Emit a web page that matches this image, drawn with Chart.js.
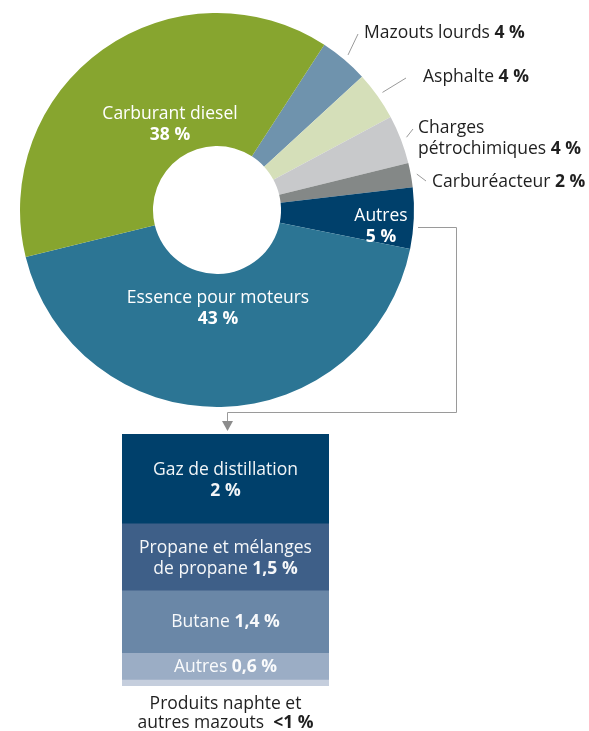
<!DOCTYPE html>
<html>
<head>
<meta charset="utf-8">
<script src="https://cdn.jsdelivr.net/npm/chart.js@4.4.0/dist/chart.umd.min.js"></script>
<style>
  html, body { margin: 0; padding: 0; background: #fff; }
  #wrap { position: relative; width: 589px; height: 731px; }
  canvas { position: absolute; left: 0; top: 0; }
</style>
</head>
<body>
<div id="wrap">
  <canvas id="pie" width="589" height="731"></canvas>
  <canvas id="bar" width="589" height="731"></canvas>
</div>
<script>
// Doughnut slices, clockwise from the top-right
const sliceNames = ['Mazouts lourds', 'Asphalte', 'Charges pétrochimiques', 'Carburéacteur', 'Autres', 'Essence pour moteurs', 'Carburant diesel'];
const sliceValues = [4, 4, 4, 2, 5, 43, 38];
const sliceColors = ['#6f93ad', '#d5dfb9', '#c8c9cb', '#848887', '#00406b', '#2c7594', '#87a52f'];

// Breakdown of "Autres", top to bottom
const otherNames = ['Gaz de distillation', 'Propane et mélanges de propane', 'Butane', 'Autres', 'Produits naphte et autres mazouts'];
const otherValues = [2, 1.5, 1.4, 0.6, 0.15];
const otherLabels = ['2 %', '1,5 %', '1,4 %', '0,6 %', '<1 %'];
const otherColors = ['#00406b', '#3e5f88', '#6a87a7', '#9badc5', '#c5cedd'];

const FONT = '"Open Sans", "DejaVu Sans", sans-serif';
const SIZE = 17.5;
const pct = v => String(v).replace('.', ',') + ' %';

// --- Helpers ---
function font(bold) { return (bold ? 'bold ' : '') + SIZE + 'px ' + FONT; }

// draw a line made of [text, bold] parts
function drawRuns(ctx, parts, x, y, align, color) {
  const widths = parts.map(p => { ctx.font = font(p[1]); return ctx.measureText(p[0]).width; });
  const total = widths.reduce((a, b) => a + b, 0);
  let cx = align === 'center' ? x - total / 2 : align === 'right' ? x - total : x;
  ctx.fillStyle = color;
  ctx.textAlign = 'left';
  ctx.textBaseline = 'middle';
  parts.forEach((p, i) => {
    ctx.font = font(p[1]);
    ctx.fillText(p[0], cx, y);
    cx += widths[i];
  });
}

// label layout for the doughnut (index -> lines)
const pieLabels = [
  { i: 0, align: 'left', x: 364, y: 33, end: [358, 34], lines: v => [[['Mazouts lourds ', 0], [v, 1]]] },
  { i: 1, align: 'left', x: 423, y: 77, end: [406, 78], lines: v => [[['Asphalte ', 0], [v, 1]]] },
  { i: 2, align: 'left', x: 418, y: 128, end: [413, 129], lines: v => [[['Charges', 0]], [['pétrochimiques ', 0], [v, 1]]] },
  { i: 3, align: 'left', x: 432, y: 182, end: [426, 181], lines: v => [[['Carburéacteur ', 0], [v, 1]]] },
  { i: 4, align: 'center', x: 381, y: 216, lines: v => [[['Autres', 0]], [[v, 1]]], inside: true },
  { i: 5, align: 'center', x: 218, y: 298, lines: v => [[['Essence pour moteurs', 0]], [[v, 1]]], inside: true },
  { i: 6, align: 'center', x: 170, y: 114, lines: v => [[['Carburant diesel', 0]], [[v, 1]]], inside: true }
];

const pieLabelPlugin = {
  id: 'pieLabels',
  afterDraw(chart) {
    const ctx = chart.ctx;
    const arcs = chart.getDatasetMeta(0).data;
    ctx.save();
    pieLabels.forEach(l => {
      const arc = arcs[l.i];
      if (!l.inside) {
        const mid = (arc.startAngle + arc.endAngle) / 2;
        const r = arc.outerRadius + 6;
        ctx.strokeStyle = '#9a9a9a';
        ctx.lineWidth = 1;
        ctx.beginPath();
        ctx.moveTo(arc.x + r * Math.cos(mid), arc.y + r * Math.sin(mid));
        ctx.lineTo(l.end[0], l.end[1]);
        ctx.stroke();
      }
      const color = l.inside ? '#ffffff' : '#1f1f1f';
      l.lines(pct(sliceValues[l.i])).forEach((line, k) => {
        drawRuns(ctx, line, l.x, l.y + k * 21, l.align, color);
      });
    });

    // connector from "Autres" to the breakdown bar
    const a = arcs[4];
    const x0 = a.x + a.outerRadius + 4;
    ctx.strokeStyle = '#9a9a9a';
    ctx.lineWidth = 1;
    ctx.beginPath();
    ctx.moveTo(x0, 227.5);
    ctx.lineTo(456.5, 227.5);
    ctx.lineTo(456.5, 412.5);
    ctx.lineTo(227.5, 412.5);
    ctx.lineTo(227.5, 421);
    ctx.stroke();
    ctx.fillStyle = '#8c8c8c';
    ctx.beginPath();
    ctx.moveTo(222, 421);
    ctx.lineTo(233, 421);
    ctx.lineTo(227.5, 431);
    ctx.closePath();
    ctx.fill();
    ctx.restore();
  }
};

const barLabelPlugin = {
  id: 'barLabels',
  afterDraw(chart) {
    const ctx = chart.ctx;
    ctx.save();
    const lines = [
      [[['Gaz de distillation', 0]], [[otherLabels[0], 1]]],
      [[['Propane et mélanges', 0]], [['de propane ', 0], [otherLabels[1], 1]]],
      [[['Butane ', 0], [otherLabels[2], 1]]],
      [[['Autres ', 0], [otherLabels[3], 1]]]
    ];
    lines.forEach((ls, i) => {
      const bar = chart.getDatasetMeta(i).data[0];
      const top = Math.min(bar.y, bar.base), bottom = Math.max(bar.y, bar.base);
      const mid = (top + bottom) / 2 + (ls.length > 1 ? 2 : 1);
      ls.forEach((line, k) => {
        drawRuns(ctx, line, bar.x, mid + (k - (ls.length - 1) / 2) * 21, 'center', 'rgba(255,255,255,0.95)');
      });
    });
    // caption for the thin bottom segment
    const last = chart.getDatasetMeta(4).data[0];
    const yb = Math.max(last.y, last.base);
    drawRuns(ctx, [['Produits naphte et', 0]], last.x, yb + 18, 'center', '#1f1f1f');
    drawRuns(ctx, [['autres mazouts  ', 0], [otherLabels[4], 1]], last.x, yb + 37, 'center', '#1f1f1f');
    ctx.restore();
  }
};

document.fonts.load('17px "Open Sans"').then(() => {
  new Chart(document.getElementById('pie'), {
    type: 'doughnut',
    data: {
      labels: sliceNames,
      datasets: [{
        data: sliceValues,
        backgroundColor: sliceColors,
        borderWidth: 0,
        hoverOffset: 0
      }]
    },
    options: {
      responsive: false,
      animation: false,
      rotation: 33,
      cutout: '32.5%',
      layout: { padding: { left: 20, top: 13, right: 175, bottom: 324 } },
      plugins: { legend: { display: false }, tooltip: { enabled: false } }
    },
    plugins: [pieLabelPlugin]
  });

  new Chart(document.getElementById('bar'), {
    type: 'bar',
    data: {
      labels: ['Autres'],
      datasets: otherNames.map((n, i) => ({
        label: n,
        data: [otherValues[i]],
        backgroundColor: otherColors[i],
        borderWidth: 0,
        barPercentage: 1,
        categoryPercentage: 1
      }))
    },
    options: {
      responsive: false,
      animation: false,
      layout: { padding: { left: 122, top: 434, right: 260, bottom: 45 } },
      scales: {
        x: { stacked: true, display: false },
        y: {
          stacked: true, display: false, reverse: true, min: 0,
          max: otherValues.reduce((a, b) => a + b, 0)
        }
      },
      plugins: { legend: { display: false }, tooltip: { enabled: false } }
    },
    plugins: [barLabelPlugin]
  });
});
</script>
</body>
</html>
